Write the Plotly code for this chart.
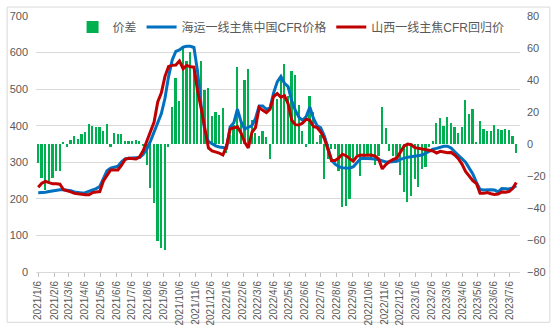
import plotly.graph_objects as go
import pandas as pd

# ---- data ----
start_date = "2021-01-06"
n_weeks = 133
dates = pd.date_range(start_date, periods=n_weeks, freq="7D")

spread = [
    -12, -21, -29, -23, -21, -17, -17, 1.4, -1.6, 2.3,
    5.3, 2.9, 6.4, 7.6, 12.3, 11.1, 10.5, 10.5, 8.2, 12.3,
    -1.6, 7, 6.4, 6.4, 2.1, 1.6, 2.0, 2.7, 2.0, -1.4,
    -13.3, -27.3, -36.7, -60.5, -64.8, -66, -1.6, 23.4, 41.4, 27,
    61.1, 51.6, 57.4, 48.8, 43.4, 51.6, 33.8, 35.2, 17.6, 20.3,
    18.2, 22.3, -5.5, 5.9, 11.7, 48, 13.3, 39.8, 46.9, 15.2,
    7, 4.7, 8.2, 4.1, -9.2, 28, 28, 43.4, 49.8, 30,
    45.7, 43.4, 24.4, 8.2, -1.6, 29.7, 19.9, 1, 5.9, -22,
    -9.4, -3, -3, -16.8, -39.6, -38.5, -34.4, -9.8, -6.8, -20.1,
    -8, -7, -9, -13.3, -7.8, 23.4, 9.8, -4.5, -7.4, -9.4,
    -19.5, -30.3, -36.1, -32.6, -21.9, -26.8, -15.6, -14.6, -2, 1.6,
    13.3, 16.4, 11.1, 17, 13.3, 10.5, 7, 10.5, 27.5, 18.8,
    21.7, 1.2, 14.1, 9.4, 8.2, 8.2, 11.7, 9.4, 8.8, 9.4,
    8.8, 4.7, -5.5,
]

seaborne_cfr = [
    217, 217, 218, 220, 222, 224, 225, 225, 224, 222,
    219, 217, 216, 217, 220, 224, 228, 234, 258, 277,
    284, 287, 289, 301, 309, 311, 311, 311, 313, 322,
    336, 358, 382, 407, 433, 475, 535, 580, 603, 607,
    615, 617, 617, 614, 548, 455, 385, 357, 350, 345,
    342, 340, 339, 397, 408, 445, 411, 391, 395, 400,
    420, 454, 454, 445, 448, 490, 520, 535, 516, 507,
    468, 442, 423, 415, 425, 451, 420, 400, 394, 372,
    340, 305, 295, 288, 285, 284, 284, 288, 300, 310,
    311, 311, 310, 309, 307, 303, 301, 301, 302, 303,
    308, 312, 314, 315, 317, 318, 320, 325, 330, 336,
    338, 341, 344, 344, 339, 329, 320, 310, 300, 284,
    268, 245, 226, 224, 225, 225, 224, 219, 228, 227,
    227, 230, 236,
]

shanxi_cfr = [
    232, 243, 248, 245, 241, 241, 240, 225, 223, 219,
    215, 213, 211, 211, 211, 217, 219, 220, 249, 265,
    279, 279, 279, 292, 308, 311, 309, 309, 315, 332,
    358, 385, 410, 465, 490, 535, 562, 565, 566, 577,
    556, 565, 561, 560, 495, 447, 387, 339, 331, 329,
    325, 320, 344, 391, 395, 397, 380, 355, 339, 382,
    395, 450, 442, 436, 445, 480, 488, 478, 482, 460,
    415, 403, 402, 407, 418, 415, 398, 395, 383, 365,
    335, 305, 305, 312, 322, 318, 310, 303, 316, 320,
    319, 320, 320, 317, 309, 282, 294, 302, 308, 311,
    326, 344, 350, 348, 340, 338, 337, 336, 334, 331,
    325, 330, 328, 326, 327, 320, 310, 295, 275, 262,
    250, 242, 215, 215, 217, 214, 212, 213, 219, 218,
    220, 228, 245,
]

tick_labels = [
    "2021/1/6", "2021/2/6", "2021/3/6", "2021/4/6", "2021/5/6", "2021/6/6",
    "2021/7/6", "2021/8/6", "2021/9/6", "2021/10/6", "2021/11/6", "2021/12/6",
    "2022/1/6", "2022/2/6", "2022/3/6", "2022/4/6", "2022/5/6", "2022/6/6",
    "2022/7/6", "2022/8/6", "2022/9/6", "2022/10/6", "2022/11/6", "2022/12/6",
    "2023/1/6", "2023/2/6", "2023/3/6", "2023/4/6", "2023/5/6", "2023/6/6",
    "2023/7/6",
]
tick_dates = [pd.to_datetime(t, format="%Y/%m/%d") for t in tick_labels]

series_names = ["价差", "海运一线主焦中国CFR价格", "山西一线主焦CFR回归价"]

FONT = "Liberation Sans, Noto Sans CJK SC, sans-serif"
TXT = "#595959"

fig = go.Figure()
fig.add_trace(go.Bar(
    x=dates, y=spread, name=series_names[0], yaxis="y",
    marker=dict(color="#00b050", line=dict(width=0)),
    width=3.3 * 86400000,
))
fig.add_trace(go.Scatter(
    x=dates, y=seaborne_cfr, name=series_names[1], yaxis="y2", mode="lines",
    line=dict(color="#0070c0", width=3),
))
fig.add_trace(go.Scatter(
    x=dates, y=shanxi_cfr, name=series_names[2], yaxis="y2", mode="lines",
    line=dict(color="#c00000", width=3),
))

L, R, T, B = 30, 31, 10, 54
W, H = 556, 336
pw, ph = W - L - R, H - T - B

fig.update_layout(
    width=W, height=H,
    margin=dict(l=L, r=R, t=T, b=B, pad=0),
    paper_bgcolor="white", plot_bgcolor="white",
    font=dict(family=FONT, size=11, color=TXT),
    showlegend=True,
    legend=dict(
        orientation="h", x=0.527, xanchor="center", y=0.957, yanchor="middle",
        font=dict(size=12, color=TXT), bgcolor="rgba(0,0,0,0)",
        itemwidth=30, tracegroupgap=0,
    ),
    xaxis=dict(
        type="date", range=["2021-01-01 17:00", "2023-07-26 05:00"],
        tickmode="array", tickvals=tick_dates, ticktext=tick_labels,
        tickangle=-90, tickfont=dict(size=10, color=TXT),
        ticks="outside", ticklen=4, tickcolor="#bfbfbf",
        showline=True, linecolor="#d9d9d9", linewidth=1,
        showgrid=False, zeroline=False,
    ),
    yaxis=dict(
        side="right", range=[-80, 80], dtick=20, tick0=0,
        showgrid=False, zeroline=False, showline=False,
        tickfont=dict(size=11, color=TXT), ticklabelstandoff=6,
    ),
    yaxis2=dict(
        overlaying="y", side="left", range=[0, 700], dtick=100, tick0=0,
        showgrid=True, gridcolor="#d9d9d9", gridwidth=1,
        zeroline=False, showline=False,
        tickfont=dict(size=11, color=TXT), ticklabelstandoff=7,
    ),
    bargap=0,
    shapes=[dict(
        type="rect", xref="paper", yref="paper",
        x0=(0.5 - L) / pw, x1=(W - 0.5 - L) / pw,
        y0=(ph + T - (H - 0.5)) / ph, y1=(ph + T - 0.5) / ph,
        line=dict(color="#d9d9d9", width=1), fillcolor="rgba(0,0,0,0)",
        layer="below",
    )],
)

fig.write_html("out.html")
